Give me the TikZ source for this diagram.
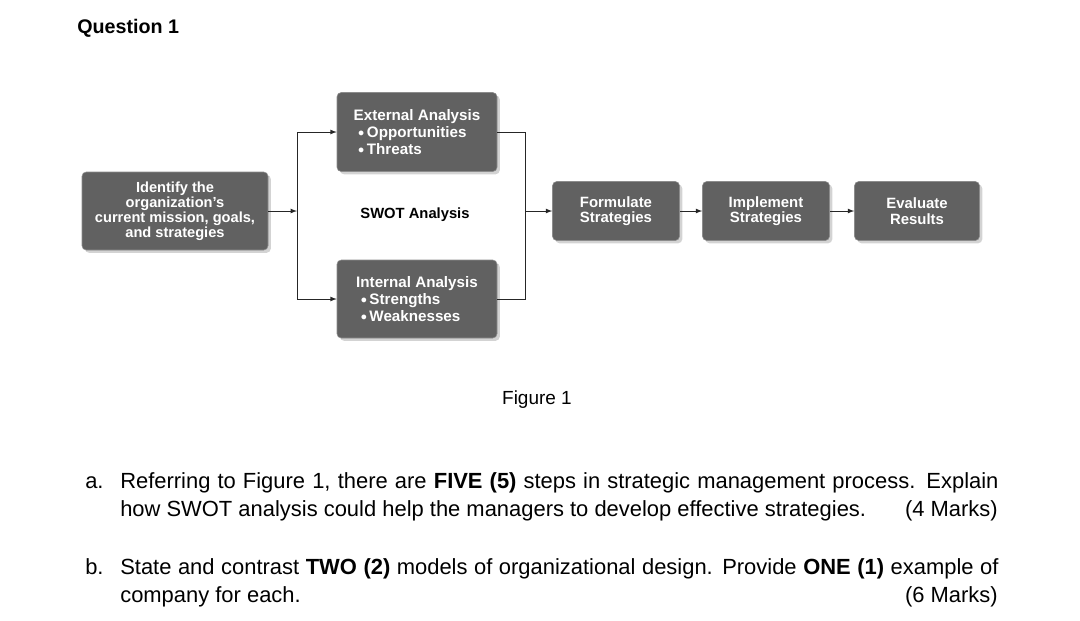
\documentclass[tikz,border=0pt]{standalone}
\usepackage{fontspec}
\setmainfont{Liberation Sans}
\usetikzlibrary{positioning,shadows}
\tikzset{
  stepbox/.style={rectangle, rounded corners=3pt, fill=black!62, draw=black!45,
    text=white, font=\fontsize{10.6}{11}\selectfont\bfseries, align=center,
    drop shadow={shadow xshift=2pt,shadow yshift=-2pt,opacity=0.35}},
  line/.style={draw=black!85, line width=0.6pt},
  arr/.style={line, -latex},
  body/.style={anchor=base west, font=\fontsize{15.6}{18}\selectfont, inner sep=0pt}
}
\newcommand{\bul}{\raisebox{0.1ex}{\scalebox{0.8}{$\bullet$}}\,}
\newcommand{\fullline}[1]{\makebox[21.95cm][s]{#1}}
\begin{document}
\begin{tikzpicture}[x=0.025cm,y=-0.025cm]
  \useasboundingbox (0,0) rectangle (1080,620);
  % Title
  \node[anchor=base west, font=\fontsize{14}{16}\selectfont\bfseries, inner sep=0pt] (title) at (77,33) {Question 1};
  % Boxes
  \node[stepbox, minimum width=186*0.025cm, minimum height=78*0.025cm, font=\fontsize{10.4}{10.6}\selectfont\bfseries] (ident) at (175,211)
    {Identify the\\organization's\\current mission, goals,\\and strategies};
  \node[stepbox, minimum width=160*0.025cm, minimum height=79*0.025cm, font=\fontsize{10.8}{12}\selectfont\bfseries, align=left] (ext) at (417,132)
    {External Analysis\\\hspace*{0.3em}\bul Opportunities\\\hspace*{0.3em}\bul Threats};
  \node[stepbox, minimum width=160*0.025cm, minimum height=78*0.025cm, font=\fontsize{10.8}{12}\selectfont\bfseries, align=left] (int) at (417,299)
    {Internal Analysis\\\hspace*{0.3em}\bul Strengths\\\hspace*{0.3em}\bul Weaknesses};
  \node[font=\fontsize{10.5}{11}\selectfont\bfseries] (swot) at (415,215) {SWOT Analysis};
  \node[stepbox, minimum width=127*0.025cm, minimum height=59*0.025cm] (form) at (616,211) {Formulate\\Strategies};
  \node[stepbox, minimum width=127*0.025cm, minimum height=59*0.025cm] (impl) at (766,211) {Implement\\Strategies};
  \node[stepbox, minimum width=125*0.025cm, minimum height=59*0.025cm] (eval) at (917,211) {Evaluate\\Results};
  % Connectors
  \coordinate (split) at (297,211);
  \coordinate (join) at (525,211);
  \draw[arr] (ident.east) -- (split);
  \draw[line] (split) -- (split |- ext.west);
  \draw[line] (split) -- (split |- int.west);
  \draw[arr] (split |- ext.west) -- (ext.west);
  \draw[arr] (split |- int.west) -- (int.west);
  \draw[line] (ext.east) -- (join |- ext.east) -- (join |- int.east) -- (int.east);
  \draw[arr] (join) -- (form.west);
  \draw[arr] (form) -- (impl);
  \draw[arr] (impl) -- (eval);
  % Caption
  \node[font=\fontsize{13.5}{15}\selectfont] (cap) at (537,400) {Figure 1};
  % Questions
  \node[body] (qa) at (85,488) {a.};
  \node[body] (qa1) at (120,488) {\fullline{Referring to Figure 1, there are \textbf{FIVE (5)} steps in strategic management process. Explain}};
  \node[body] (qa2) at (120,516) {how SWOT analysis could help the managers to develop effective strategies.};
  \node[body, anchor=base east] (ma) at (998,516) {(4 Marks)};
  \node[body] (qb) at (85,574) {b.};
  \node[body] (qb1) at (120,574) {\fullline{State and contrast \textbf{TWO (2)} models of organizational design. Provide \textbf{ONE (1)} example of}};
  \node[body] (qb2) at (120,602) {company for each.};
  \node[body, anchor=base east] (mb) at (998,602) {(6 Marks)};
\end{tikzpicture}
\end{document}
